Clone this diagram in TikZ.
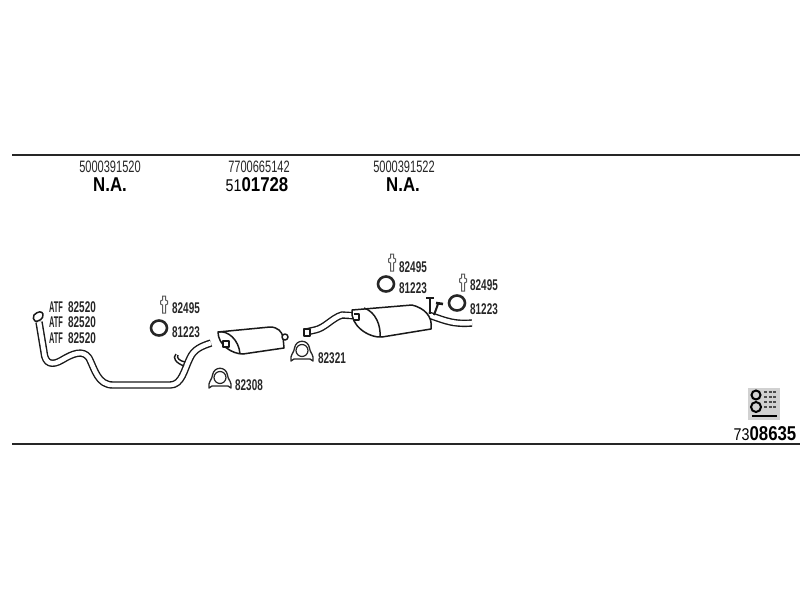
\documentclass[tikz,border=0pt]{standalone}
\usepackage{fontspec}
\setmainfont{Liberation Sans}
\tikzset{
  pipe/.style={draw=black!90,double=white,double distance=4.6pt,line width=1.4pt,line join=round},
  body/.style={draw=black!90,fill=white,line width=1.5pt,line join=round},
  ring/.style={draw=black!85,line width=2.6pt},
  partno/.style={inner sep=0pt,font=\fontsize{15.5}{15.5}\selectfont\bfseries,xscale=.64,text=black!85},
  fluid/.style={inner sep=0pt,font=\fontsize{15.5}{15.5}\selectfont\bfseries,xscale=.48,text=black!85},
  oenum/.style={inner sep=0pt,font=\fontsize{16.5}{16.5}\selectfont,xscale=.67,text=black!85},
  bignum/.style={inner sep=0pt,font=\fontsize{20}{20}\selectfont\bfseries,xscale=.84,text=black}
}
\newcommand{\pin}[1]{
  \draw[draw=black!65,line width=1pt,fill=white,shift={#1}] (-1.5,-8) -- (1.5,-8) -- (1.5,-4) -- (3.5,-3) -- (3.5,0) -- (1.5,1) -- (1.5,9) -- (-1.5,9) -- (-1.5,1) -- (-3.5,0) -- (-3.5,-3) -- (-1.5,-4) -- cycle;
}
\newcommand{\clamp}[1]{
  \draw[draw=black!85,line width=1.3pt,fill=white,shift={#1},line join=round] (-11,9) -- (-11,5) .. controls (-10,1) and (-8,0) .. (-7.5,-4) .. controls (-6,-13) and (6,-13) .. (7.5,-4) .. controls (8,0) and (10,1) .. (11,5) -- (11,9) -- (8,7) -- (-8,7) -- cycle;
  \draw[draw=black!85,line width=1.2pt,fill=white,shift={#1}] (0,-1.5) circle (6);
}
\begin{document}
\begin{tikzpicture}[x=1pt,y=-1pt]
  \useasboundingbox (0,0) rectangle (800,600);
  \draw[line width=1.8pt,black!85] (12,155) -- (800,155);
  \draw[line width=1.8pt,black!85] (12,444) -- (800,444);
  % top row
  \node[oenum] (oeA) at (110,167) {5000391520};
  \node[oenum] (oeB) at (259,167) {7700665142};
  \node[oenum] (oeC) at (404,167) {5000391522};
  \node[bignum] (naA) at (110,185) {N.A.};
  \node[bignum] (numB) at (257,185) {{\fontsize{17}{17}\selectfont\mdseries 51}01728};
  \node[bignum] (naC) at (403,185) {N.A.};
  % front pipe
  \draw[pipe] (39,322) -- (44,352) .. controls (45,364) and (52,366) .. (62,360) .. controls (72,354) and (83,349) .. (89,358) .. controls (95,370) and (98,385) .. (113,385) -- (170,385) .. controls (182,385) and (184,370) .. (190,358) .. controls (194,349) and (202,346) .. (211,343);
  \draw[body] (34,315) .. controls (38,311) and (42,311) .. (43,314) .. controls (44,319) and (38,322) .. (35,321) .. controls (33,320) and (33,317) .. (34,315) -- cycle;
  \draw[black!90,line width=1.4pt] (184,366) .. controls (176,363) and (172,358) .. (176,354);
  \draw[black!90,line width=1.4pt] (185,362) .. controls (180,361) and (176,358) .. (178,355);
  % middle silencer
  \draw[body] (218,332) -- (270,327) .. controls (278,327) and (282,332) .. (283,337) -- (284,348) -- (243,354) .. controls (232,354) and (218,345) .. (218,332) -- cycle;
  \draw[black!90,line width=1.5pt] (218,332) .. controls (228,330) and (239,340) .. (240,354);
  \draw[body] (285,337) circle (3);
  \draw[body] (223,341) rectangle (229,347);
  % rear pipe and silencer
  \draw[pipe] (306,332) -- (315,330) .. controls (325,328) and (332,318) .. (342,315) -- (358,316);
  \draw[body] (304,329) rectangle (310,336);
  \draw[pipe] (428,315) .. controls (440,318) and (450,325) .. (472,323);
  \draw[body] (352,310) -- (412,305) .. controls (424,308) and (433,316) .. (431,329) -- (382,337) .. controls (368,338) and (350,325) .. (352,310) -- cycle;
  \draw[black!90,line width=1.5pt] (364,308) .. controls (376,312) and (381,326) .. (380,337);
  \draw[body] (354,314) -- (359,314) -- (359,320) -- (354,320);
  % hangers on the rear silencer
  \draw[black!90,line width=2pt] (430,299) -- (430,314);
  \draw[black!90,line width=2.6pt] (426,298) -- (434,298);
  \draw[black!90,line width=2pt] (438,304) -- (434,315);
  \draw[black!90,line width=2.6pt] (436,303) -- (443,304);
  % rings and pins
  \draw[ring] (159,328) ellipse (8 and 7.5);
  \draw[ring] (386,284) ellipse (8 and 7.5);
  \draw[ring] (457,303) ellipse (8 and 7.5);
  \pin{(164,304)}
  \pin{(392,262)}
  \pin{(463,282)}
  % clamps
  \clamp{(220,379)}
  \clamp{(302,352)}
  % part numbers
  \foreach \yy in {307,322,338} {
    \node[fluid] at (56,\yy) {ATF};
    \node[partno] at (82,\yy) {82520};
  }
  \node[partno] (lblA) at (186,308) {82495};
  \node[partno] (lblB) at (186,332) {81223};
  \node[partno] (lblC) at (249,385) {82308};
  \node[partno] (lblD) at (332,358) {82321};
  \node[partno] (lblE) at (413,267) {82495};
  \node[partno] (lblF) at (413,288) {81223};
  \node[partno] (lblG) at (484,285) {82495};
  \node[partno] (lblH) at (484,309) {81223};
  % code symbol
  \fill[black!18] (748,388) rectangle (780,420);
  \draw[black,line width=2pt] (756,395) circle (4.5);
  \draw[black,line width=2pt] (756,407) circle (5);
  \foreach \yy in {392,397,402,407} \draw[black!70,line width=1.4pt,dash pattern=on 3pt off 1.5pt] (764,\yy) -- (777,\yy);
  \draw[black,line width=1.4pt] (752,416) -- (777,416);
  \node[bignum] (numZ) at (765,434) {{\fontsize{17}{17}\selectfont\mdseries 73}08635};
\end{tikzpicture}
\end{document}
